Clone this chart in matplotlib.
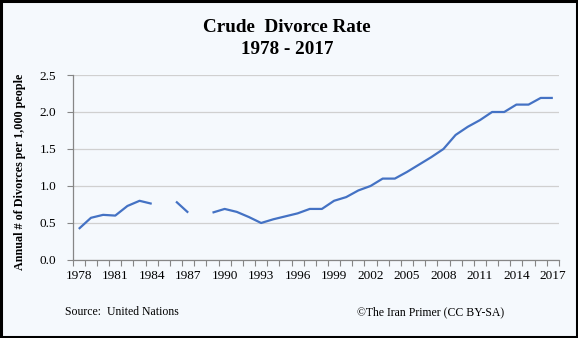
"""Crude divorce rate in Iran, 1978-2017 (The Iran Primer style chart)."""

import matplotlib
matplotlib.use("Agg")
import matplotlib.pyplot as plt
import numpy as np
from matplotlib.patches import Rectangle
from matplotlib.ticker import FixedLocator, FuncFormatter

years = list(range(1978, 2018))
# divorces per 1,000 people; None = no data for that year
rate = [0.42, 0.57, 0.61, 0.60, 0.73, 0.80, 0.76, None, 0.79, 0.64,
        None, 0.64, 0.69, 0.65, 0.58, 0.50, 0.55, 0.59, 0.63, 0.69,
        0.69, 0.80, 0.85, 0.94, 1.00, 1.10, 1.10, 1.19, 1.29, 1.39,
        1.50, 1.69, 1.80, 1.89, 2.00, 2.00, 2.10, 2.10, 2.19, 2.19]
y_ticks = [0.0, 0.5, 1.0, 1.5, 2.0, 2.5]

BG = "#f5f9fd"
SERIF = ["Liberation Serif", "DejaVu Serif"]

plt.rcParams["font.family"] = SERIF

fig = plt.figure(figsize=(5.78, 3.38), dpi=100, facecolor=BG)
ax = fig.add_axes([0.1258, 0.2308, 0.967 - 0.1258, 0.5473])
ax.set_facecolor(BG)

x = np.arange(len(years))
y = np.array([np.nan if v is None else v for v in rate])
ax.plot(x, y, color="#4472c4", linewidth=1.6, solid_capstyle="butt")

ax.set_xlim(-0.5, len(years) - 0.5)
ax.set_ylim(0, 2.5)
ax.set_yticks(y_ticks)
ax.yaxis.set_major_formatter(FuncFormatter(lambda v, _: f"{v:.1f}"))
ax.grid(axis="y", color="#d0d0d0", linewidth=0.9)
ax.set_axisbelow(True)

label_idx = [i for i, yr in enumerate(years) if (yr - 1978) % 3 == 0]
ax.set_xticks(label_idx)
ax.set_xticklabels([str(years[i]) for i in label_idx])
ax.xaxis.set_minor_locator(FixedLocator(np.arange(-0.5, len(years), 1.0)))
ax.tick_params(axis="x", which="major", length=0, pad=7, labelsize=9.5)
ax.tick_params(axis="x", which="minor", length=4, color="#868686", width=0.8)
ax.tick_params(axis="y", length=4, color="#868686", width=0.8, labelsize=9.5, pad=8)

for side in ("top", "right"):
    ax.spines[side].set_visible(False)
for side in ("left", "bottom"):
    ax.spines[side].set_color("#868686")
    ax.spines[side].set_linewidth(0.9)

ax.set_ylabel("Annual # of Divorces per 1,000 people", fontsize=8.7,
              fontweight="bold", labelpad=12)
ax.yaxis.set_label_coords(-0.097, 0.478)

fig.text(0.497, 0.918, "Crude  Divorce Rate", ha="center", va="center",
         fontsize=13.8, fontweight="bold")
fig.text(0.497, 0.855, "1978 - 2017", ha="center", va="center",
         fontsize=13.8, fontweight="bold")

fig.text(0.112, 0.077, "Source:  United Nations", ha="left", va="center", fontsize=8.5)
fig.text(0.872, 0.077, "\u00a9The Iran Primer (CC BY-SA)", ha="right", va="center",
         fontsize=8.5)

fig.patches.append(Rectangle((0.0025, 0.004), 0.995, 0.992, transform=fig.transFigure,
                             fill=False, edgecolor="black", linewidth=2.2))

fig.savefig("out.png", dpi=100, facecolor=BG)
